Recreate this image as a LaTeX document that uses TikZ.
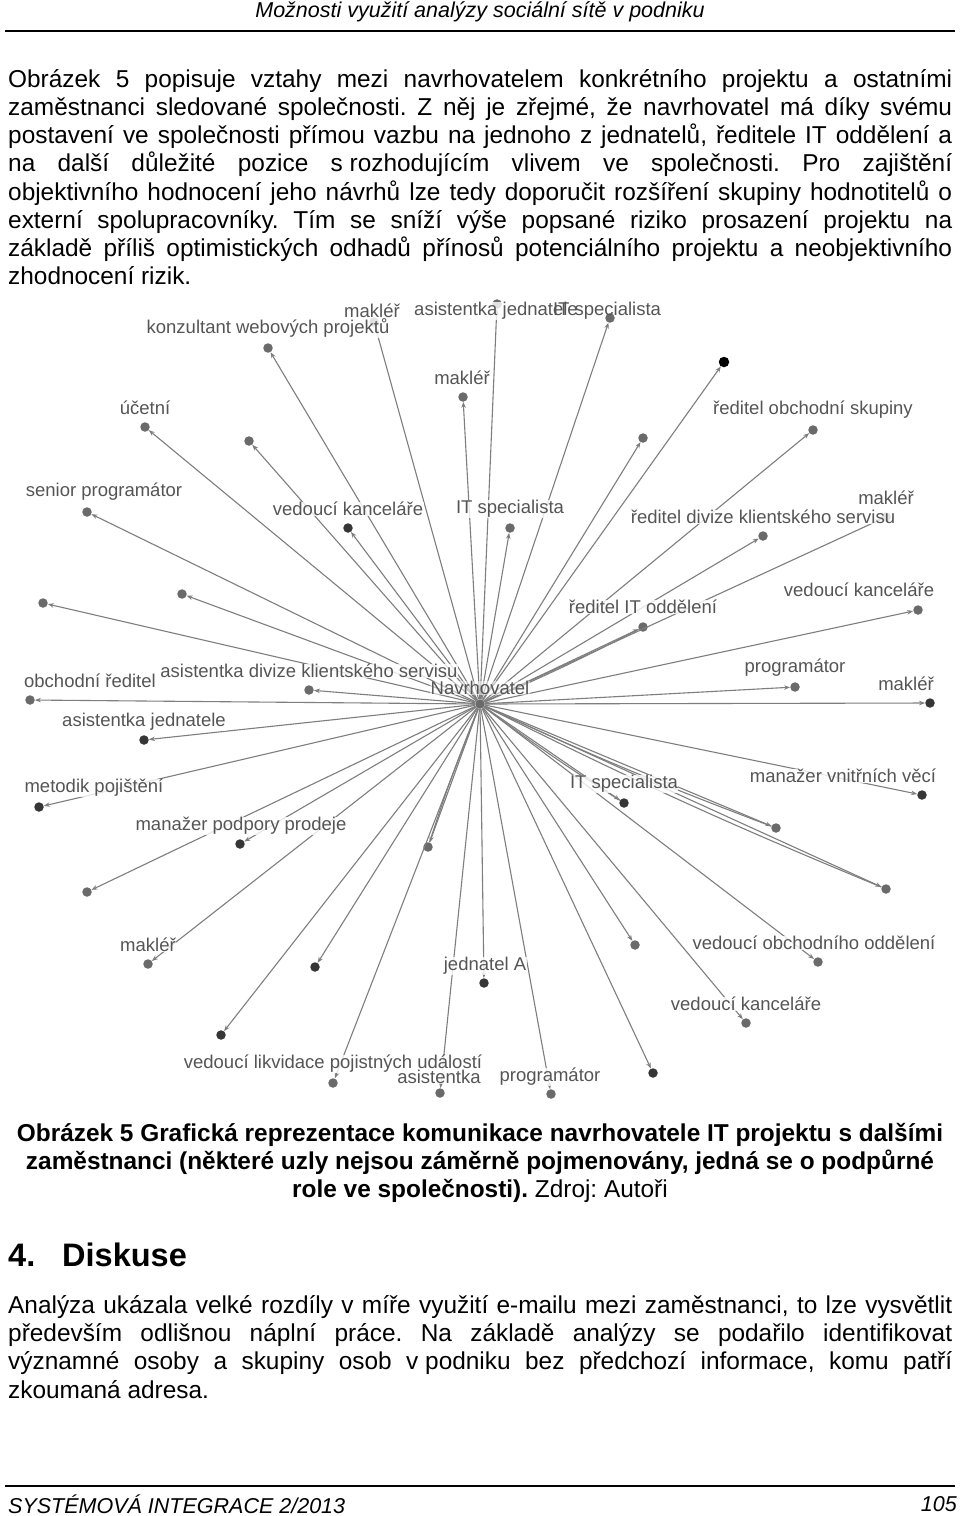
\documentclass[tikz,border=0pt]{standalone}
\usepackage{fontspec}
\setmainfont{Liberation Sans}
\usetikzlibrary{arrows.meta}
\frenchspacing
\definecolor{edgec}{HTML}{7E7E7E}
\definecolor{dotg}{HTML}{6A6A6A}
\definecolor{dotd}{HTML}{363636}
\definecolor{labc}{HTML}{555555}
\tikzset{
  dot/.style={circle,fill=dotg,inner sep=0pt,minimum size=9.5pt},
  dotdark/.style={dot,fill=dotd},
  dotblack/.style={dot,fill=black,minimum size=10.5pt},
  lab/.style={font=\fontsize{18.5}{20}\selectfont,text=labc,fill=white,fill opacity=0.8,text opacity=1,inner sep=0.5pt},
  labnofill/.style={lab,fill=none},
  edge/.style={draw=edgec,line width=1.1pt,-{Stealth[length=6pt,width=4.5pt]}},
  edgeback/.style={draw=edgec,line width=1.1pt},
  body/.style={anchor=base west,inner sep=0pt,font=\fontsize{24.4}{28}\selectfont},
  capt/.style={anchor=base,inner sep=0pt,font=\fontsize{24.4}{28}\selectfont},
  headf/.style={inner sep=0pt,font=\fontsize{21.5}{24}\selectfont\itshape},
  rule/.style={line width=2.6pt},
}
\newcommand{\jl}[1]{\makebox[944pt][s]{#1}}
\begin{document}
\begin{tikzpicture}[x=1pt,y=-1pt]
\useasboundingbox (0,0) rectangle (960,1516);
\fill[white] (0,0) rectangle (960,1516);

% header
\node[headf,anchor=base] (hd) at (480,17) {Možnosti využití analýzy sociální sítě v podniku};
\draw[rule] (5,31) -- (955,31);

% paragraph 1
\node[body] (p1) at (8,87) {\jl{Obrázek 5 popisuje vztahy mezi navrhovatelem konkrétního projektu a ostatními}};
\node[body] (p2) at (8,115.3) {\jl{zaměstnanci sledované společnosti. Z něj je zřejmé, že navrhovatel má díky svému}};
\node[body] (p3) at (8,143.5) {\jl{postavení ve společnosti přímou vazbu na jednoho z jednatelů, ředitele IT oddělení a}};
\node[body] (p4) at (8,171.8) {\jl{na další důležité pozice \mbox{s rozhodujícím} vlivem ve společnosti. Pro zajištění}};
\node[body] (p5) at (8,200) {\jl{objektivního hodnocení jeho návrhů lze tedy doporučit rozšíření skupiny hodnotitelů o}};
\node[body] (p6) at (8,228.3) {\jl{externí spolupracovníky. Tím se sníží výše popsané riziko prosazení projektu na}};
\node[body] (p7) at (8,256.5) {\jl{základě příliš optimistických odhadů přínosů potenciálního projektu a neobjektivního}};
\node[body] (p8) at (8,284.8) {zhodnocení rizik.};

% graph: dots
\node[dot] (nav) at (480,704) {};
\node[dot] (n1) at (268,348) {};
\node[dot] (n2) at (374,322) {};
\node[dot] (n3) at (497,304) {};
\node[dot] (n4) at (610,318) {};
\node[dot] (n5) at (463,397) {};
\node[dotblack] (n6) at (724,362) {};
\node[dot] (n7) at (813,430) {};
\node[dot] (n8) at (643,438) {};
\node[dot] (n9) at (145,427) {};
\node[dot] (n10) at (249,441) {};
\node[dot] (n11) at (87,512) {};
\node[dotdark] (n12) at (348,528) {};
\node[dot] (n13) at (510,528) {};
\node[dot] (n14) at (886,517) {};
\node[dot] (n15) at (763,536) {};
\node[dot] (n16) at (918,610) {};
\node[dot] (n17) at (643,627) {};
\node[dot] (n18) at (795,687) {};
\node[dotdark] (n19) at (930,703) {};
\node[dotdark] (n20) at (922,795) {};
\node[dotdark] (n21) at (624,803) {};
\node[dot] (n22) at (776,828) {};
\node[dot] (n23) at (886,889) {};
\node[dot] (n24) at (818,962) {};
\node[dot] (n25) at (635,945) {};
\node[dot] (n26) at (746,1023) {};
\node[dotdark] (n27) at (653,1073) {};
\node[dot] (n28) at (551,1094) {};
\node[dotdark] (n29) at (484,983) {};
\node[dot] (n30) at (440,1093) {};
\node[dot] (n31) at (333,1083) {};
\node[dotdark] (n32) at (221,1035) {};
\node[dotdark] (n33) at (315,967) {};
\node[dot] (n34) at (428,847) {};
\node[dot] (n35) at (148,964) {};
\node[dot] (n36) at (87,892) {};
\node[dotdark] (n37) at (240,844) {};
\node[dotdark] (n38) at (39,807) {};
\node[dotdark] (n39) at (144,740) {};
\node[dot] (n40) at (30,700) {};
\node[dot] (n41) at (309,690) {};
\node[dot] (n42) at (182,594) {};
\node[dot] (n43) at (43,603) {};

% edges
\foreach \n in {n1,n2,n3,n4,n5,n6,n7,n8,n9,n10,n11,n12,n13,n14,n15,n16,n17,n18,n19,n20,n21,n22,n23,n24,n25,n26,n27,n28,n29,n30,n31,n32,n33,n34,n35,n36,n37,n38,n39,n40,n41,n42,n43}
  \draw[edge] (nav) -- (\n);
\foreach \n in {n17,n21,n22,n23,n34}
  \draw[edgeback] (\n) to[bend left=2] (nav);

% labels
\node[lab] (l1) at (268,328) {konzultant webových projektů};
\node[lab] (l2) at (372,311) {makléř};
\node[lab] (l3) at (496,311) {asistentka jednatele};
\node[labnofill] (l4) at (607,311) {IT specialista};
\node[lab] (l5) at (462,378) {makléř};
\node[lab] (l7) at (813,410) {ředitel obchodní skupiny};
\node[lab] (l9) at (145,408) {účetní};
\node[lab] (l11) at (104,492) {senior programátor};
\node[lab] (l12) at (348,509) {vedoucí kanceláře};
\node[lab] (l13) at (510,509) {IT specialista};
\node[lab] (l15) at (763,517) {ředitel divize klientského servisu};
\node[labnofill] (l14) at (886,498) {makléř};
\node[lab] (l16) at (859,590) {vedoucí kanceláře};
\node[lab] (l17) at (643,607) {ředitel IT oddělení};
\node[lab] (l18) at (795,668) {programátor};
\node[lab] (l19) at (906,684) {makléř};
\node[lab] (l20) at (843,776) {manažer vnitřních věcí};
\node[lab] (l21) at (624,784) {IT specialista};
\node[lab] (l24) at (814,943) {vedoucí obchodního oddělení};
\node[lab] (l26) at (746,1004) {vedoucí kanceláře};
\node[lab] (l29) at (485,966) {jednatel A};
\node[lab] (l31) at (333,1064) {vedoucí likvidace pojistných událostí};
\node[lab] (l28) at (550,1077) {programátor};
\node[lab] (l30) at (439,1077) {asistentka};
\node[lab] (l35) at (148,945) {makléř};
\node[lab] (l37) at (241,826) {manažer podpory prodeje};
\node[lab] (l38) at (94,788) {metodik pojištění};
\node[lab] (l39) at (144,722) {asistentka jednatele};
\node[lab] (l40) at (90,681) {obchodní ředitel};
\node[lab] (l41) at (309,671) {asistentka divize klientského servisu};
\node[lab,fill opacity=0.5] (lnav) at (480,688) {Navrhovatel};

% caption
\node[capt] (c1) at (480,1141) {\bfseries Obrázek 5 Grafická reprezentace komunikace navrhovatele IT projektu s dalšími};
\node[capt] (c2) at (480,1169) {\bfseries zaměstnanci (některé uzly nejsou záměrně pojmenovány, jedná se o podpůrné};
\node[capt] (c3) at (480,1197) {{\bfseries role ve společnosti).} Zdroj: Autoři};

% heading
\node[anchor=base west,inner sep=0pt,font=\fontsize{32.5}{36}\selectfont\bfseries] (h1) at (8,1266) {4.};
\node[anchor=base west,inner sep=0pt,font=\fontsize{32.5}{36}\selectfont\bfseries] (h2) at (62,1266) {Diskuse};

% paragraph 2
\node[body] (q1) at (8,1313) {\jl{Analýza ukázala velké rozdíly v míře využití e-mailu mezi zaměstnanci, to lze vysvětlit}};
\node[body] (q2) at (8,1341.3) {\jl{především odlišnou náplní práce. Na základě analýzy se podařilo identifikovat}};
\node[body] (q3) at (8,1369.6) {\jl{významné osoby a skupiny osob \mbox{v podniku} bez předchozí informace, komu patří}};
\node[body] (q4) at (8,1398) {zkoumaná adresa.};

% footer
\draw[rule] (5,1486) -- (955,1486);
\node[headf,anchor=base west] (ft) at (8,1513) {SYSTÉMOVÁ INTEGRACE 2/2013};
\node[headf,anchor=base east] (pg) at (957,1511) {105};
\end{tikzpicture}
\end{document}
